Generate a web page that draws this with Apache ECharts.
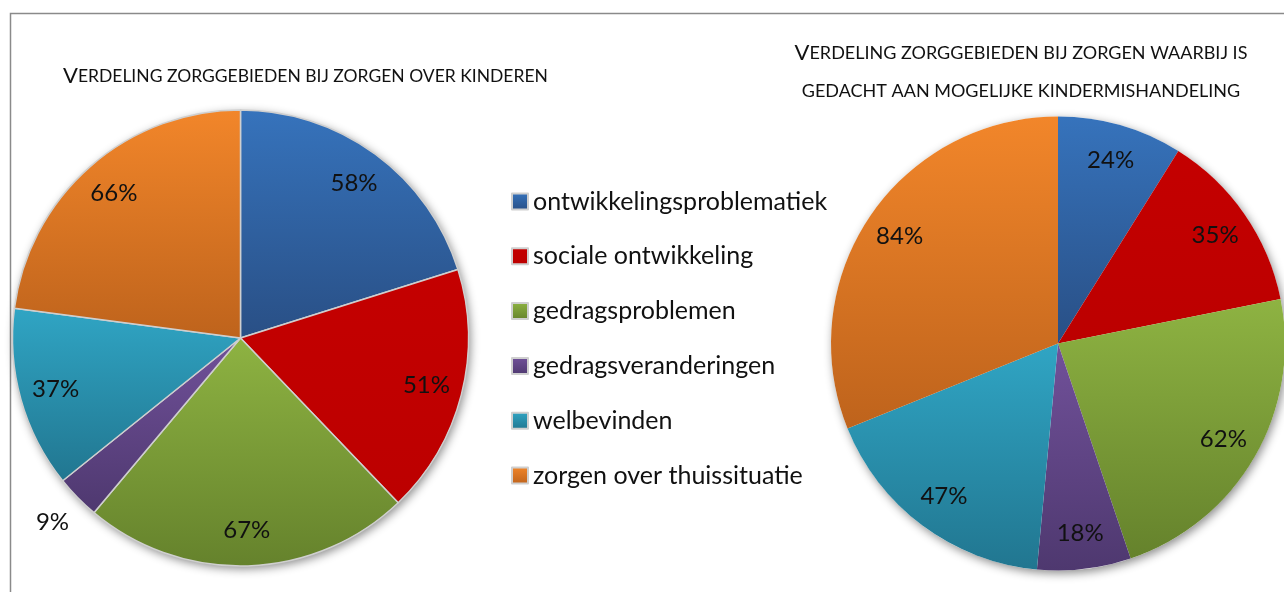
<!DOCTYPE html>
<html><head><meta charset="utf-8">
<script src="https://cdn.jsdelivr.net/npm/echarts@6/dist/echarts.min.js"></script>
<style>html,body{margin:0;padding:0;background:#fff}#c{width:1284px;height:592px}</style>
</head><body><div id="c"></div>
<script>
const categories = ['ontwikkelingsproblematiek','sociale ontwikkeling','gedragsproblemen','gedragsveranderingen','welbevinden','zorgen over thuissituatie'];
const valuesKinderen = [58, 51, 67, 9, 37, 66];
const valuesMishandeling = [24, 35, 62, 18, 47, 84];
const title1 = ['V', 'ERDELING ZORGGEBIEDEN BIJ ZORGEN OVER KINDEREN'];
const title2 = ['V', 'ERDELING ZORGGEBIEDEN BIJ ZORGEN WAARBIJ IS', 'GEDACHT AAN MOGELIJKE KINDERMISHANDELING'];

const grads = [
  ['#3673BC', '#294F85'],
  ['#C40000', '#BC0000'],
  ['#8EB342', '#65822C'],
  ['#71519A', '#4E386F'],
  ['#30A5C4', '#217690'],
  ['#F2862A', '#BE631C']
];
function grad(i){
  return new echarts.graphic.LinearGradient(0,0,0,1,[{offset:0,color:grads[i][0]},{offset:1,color:grads[i][1]}]);
}
const FONT = 'Lato, "Open Sans", sans-serif';
const chart = echarts.init(document.getElementById('c'), null, {renderer:'canvas'});

function colorData(vals){ return categories.map((n,i)=>({name:n, value:vals[i], itemStyle:{color:grad(i)}})); }
function labelData(vals, outer){
  const total = vals.reduce((a,b)=>a+b,0);
  return categories.map((n,i)=>{
    const small = vals[i]/total < 0.05;
    return {name:n, value:vals[i], label:{show: outer ? small : !small}};
  });
}
function pieSeries(center, r, vals, border){
  const base = {type:'pie', center:center, startAngle:90, clockwise:true, animation:false, silent:true, emphasis:{disabled:true}, labelLine:{show:false}};
  const lbl = {position:'inside', color:'#111', fontSize:24, fontFamily:FONT, fontWeight:'normal', formatter:'{c}%'};
  return [
    Object.assign({}, base, {name:'shadow', radius:[0,r], z:1, data:[{value:1, name:'_bg'}], label:{show:false},
      itemStyle:{color:'#ffffff', shadowBlur:10, shadowColor:'rgba(0,0,0,0.45)', shadowOffsetX:2, shadowOffsetY:3}}),
    Object.assign({}, base, {radius:[0,r], z:2, data:colorData(vals), label:{show:false},
      itemStyle: border ? {borderColor:'#cfcfcf', borderWidth:1.5} : {borderWidth:0}}),
    Object.assign({}, base, {radius:[r-78, r], z:3, data:labelData(vals,false),
      itemStyle:{color:'rgba(0,0,0,0)'}, label:lbl}),
    Object.assign({}, base, {radius:[r+12, r+52], z:3, data:labelData(vals,true),
      itemStyle:{color:'rgba(0,0,0,0)'}, label:lbl})
  ];
}

const rich = {
  a:{fontSize:22, fontFamily:FONT, color:'#111', fontWeight:'normal'},
  b:{fontSize:17.5, fontFamily:FONT, color:'#111', fontWeight:'normal'}
};
const option = {
  backgroundColor:'#fff',
  animation:false,
  title:[
    {text:'{a|'+title1[0]+'}{b|'+title1[1]+'}', left:58, top:60, textStyle:{fontWeight:'normal', rich:rich}},
    {text:'{a|'+title2[0]+'}{b|'+title2[1]+'}\n{b|'+title2[2]+'}', left:1016, top:29, textAlign:'center',
     textStyle:{fontWeight:'normal', rich:{a:Object.assign({},rich.a,{lineHeight:38}), b:Object.assign({},rich.b,{fontSize:18,lineHeight:38})}}}
  ],
  legend:{
    orient:'vertical', left:511, top:189, padding:0, itemGap:29.8, itemWidth:16, itemHeight:16, icon:'rect',
    data:categories, selectedMode:false,
    textStyle:{fontSize:25, fontFamily:FONT, color:'#111'}
  },
  graphic:[
    {type:'polyline', z:0, shape:{points:[[10.5,592],[10.5,13.5],[1284,13.5]]}, style:{stroke:'#8a8a8a', lineWidth:1.5, fill:null}}
  ],
  series:[].concat(
    pieSeries([240.5,338], 228, valuesKinderen, true),
    pieSeries([1058,343.5], 227, valuesMishandeling, false)
  )
};
chart.setOption(option);
</script></body></html>
